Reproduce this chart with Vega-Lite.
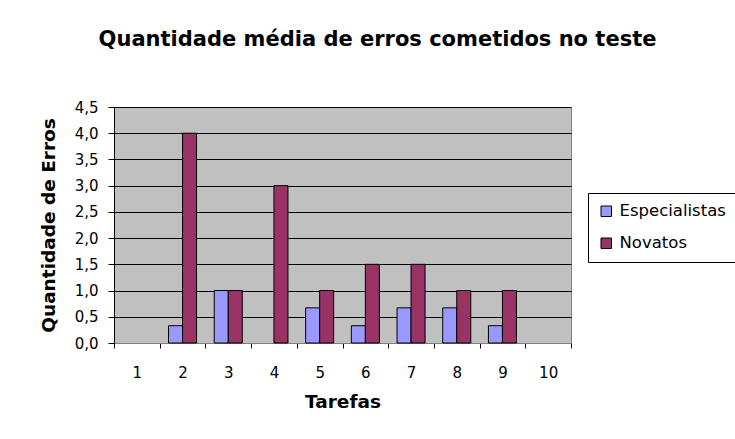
{
  "$schema": "https://vega.github.io/schema/vega-lite/v6.json",
  "autosize": "none",
  "width": 457,
  "height": 236,
  "padding": {"left": 114, "top": 107, "right": 164, "bottom": 96},
  "background": "white",
  "title": {
    "text": "Quantidade média de erros cometidos no teste",
    "font": "DejaVu Sans",
    "fontSize": 21,
    "fontWeight": "bold",
    "color": "black",
    "anchor": "middle",
    "dx": 35,
    "offset": 50
  },
  "config": {
    "font": "DejaVu Sans",
    "view": {"fill": "#C0C0C0", "stroke": "#808080", "strokeWidth": 1}
  },
  "data": {
    "values": [
      {"tarefa": "2", "grupo": "Especialistas", "erros": 0.33},
      {"tarefa": "2", "grupo": "Novatos", "erros": 4.0},
      {"tarefa": "3", "grupo": "Especialistas", "erros": 1.0},
      {"tarefa": "3", "grupo": "Novatos", "erros": 1.0},
      {"tarefa": "4", "grupo": "Novatos", "erros": 3.0},
      {"tarefa": "5", "grupo": "Especialistas", "erros": 0.67},
      {"tarefa": "5", "grupo": "Novatos", "erros": 1.0},
      {"tarefa": "6", "grupo": "Especialistas", "erros": 0.33},
      {"tarefa": "6", "grupo": "Novatos", "erros": 1.5},
      {"tarefa": "7", "grupo": "Especialistas", "erros": 0.67},
      {"tarefa": "7", "grupo": "Novatos", "erros": 1.5},
      {"tarefa": "8", "grupo": "Especialistas", "erros": 0.67},
      {"tarefa": "8", "grupo": "Novatos", "erros": 1.0},
      {"tarefa": "9", "grupo": "Especialistas", "erros": 0.33},
      {"tarefa": "9", "grupo": "Novatos", "erros": 1.0}
    ]
  },
  "mark": {"type": "bar", "stroke": "black", "strokeWidth": 1},
  "encoding": {
    "x": {
      "field": "tarefa",
      "type": "nominal",
      "scale": {"domain": ["1","2","3","4","5","6","7","8","9","10"], "paddingInner": 0, "paddingOuter": 0},
      "axis": {
        "title": "Tarefas",
        "titleFont": "DejaVu Sans",
        "titleFontSize": 18.5,
        "titleFontWeight": "bold",
        "titleColor": "black",
        "titlePadding": 12,
        "labelAngle": 0,
        "labelFont": "DejaVu Sans",
        "labelFontSize": 15,
        "labelColor": "black",
        "labelPadding": 17,
        "tickBand": "extent",
        "tickColor": "black",
        "tickSize": 5,
        "domainColor": "#808080",
        "grid": false
      }
    },
    "xOffset": {
      "field": "grupo",
      "type": "nominal",
      "scale": {"domain": ["Especialistas", "Novatos"], "paddingInner": 0, "paddingOuter": 0.63}
    },
    "y": {
      "field": "erros",
      "type": "quantitative",
      "scale": {"domain": [0, 4.5], "nice": false},
      "axis": {
        "title": "Quantidade de Erros",
        "titleFont": "DejaVu Sans",
        "titleFontSize": 18.5,
        "titleFontWeight": "bold",
        "titleColor": "black",
        "titlePadding": 16,
        "values": [0, 0.5, 1, 1.5, 2, 2.5, 3, 3.5, 4, 4.5],
        "labelExpr": "replace(format(datum.value, '.1f'), '.', ',')",
        "labelFont": "DejaVu Sans",
        "labelFontSize": 15,
        "labelColor": "black",
        "labelPadding": 10,
        "tickColor": "black",
        "tickSize": 6,
        "domainColor": "black",
        "grid": true,
        "gridColor": "black",
        "gridOpacity": 1,
        "gridWidth": 1
      }
    },
    "color": {
      "field": "grupo",
      "type": "nominal",
      "scale": {"domain": ["Especialistas", "Novatos"], "range": ["#9999FF", "#993366"]},
      "legend": {
        "title": null,
        "orient": "none",
        "legendX": 474,
        "legendY": 86,
        "fillColor": "white",
        "strokeColor": "black",
        "padding": 10,
        "symbolType": "square",
        "symbolSize": 110,
        "symbolStrokeColor": "black",
        "symbolStrokeWidth": 1,
        "symbolOpacity": 1,
        "labelFont": "DejaVu Sans",
        "labelFontSize": 16.5,
        "labelColor": "black",
        "rowPadding": 15,
        "labelOffset": 5
      }
    }
  }
}
